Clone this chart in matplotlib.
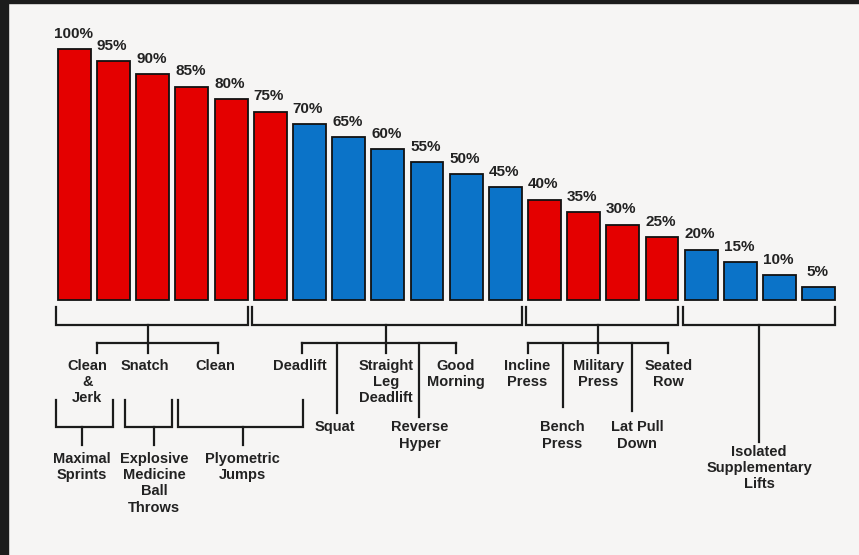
"""
Training intensity pyramid - % of max effort by exercise group
"""
import matplotlib.pyplot as plt
from matplotlib.patches import Rectangle

# --- data ---
percent = [100, 95, 90, 85, 80, 75, 70, 65, 60, 55,
           50, 45, 40, 35, 30, 25, 20, 15, 10, 5]
bar_kind = ['speed'] * 6 + ['strength'] * 6 + ['speed'] * 4 + ['strength'] * 4

# bar index ranges covered by each top bracket
group_bars = [(0, 4), (5, 11), (12, 15), (16, 19)]

# level-1 exercises: label, group, reach ('top' = short tick, 'low' = long line)
lift_labels = ["Clean\n&\nJerk", "Snatch", "Clean",
               "Deadlift", "Squat", "Straight\nLeg\nDeadlift", "Reverse\nHyper", "Good\nMorning",
               "Incline\nPress", "Bench\nPress", "Military\nPress", "Lat Pull\nDown", "Seated\nRow"]
lift_group = [0, 0, 0, 1, 1, 1, 1, 1, 2, 2, 2, 2, 2]
lift_reach = ['top', 'top', 'top', 'top', 'low', 'top', 'low', 'top',
              'top', 'low', 'top', 'low', 'top']

# level-2 groupings under the first bracket
drill_labels = ["Maximal\nSprints", "Explosive\nMedicine\nBall\nThrows", "Plyometric\nJumps"]
last_label = "Isolated\nSupplementary\nLifts"

# --- layout (bar units / % units) ---
lift_x = [0.57, 1.88, 3.66, 5.81, 6.70, 7.95, 8.80, 9.74,
          11.58, 12.47, 13.37, 14.24, 15.16]
lift_text_x = [0.33, 1.80, 3.59, 5.76, 6.65, 7.95, 8.82, 9.74,
               11.56, 12.45, 13.37, 14.36, 15.16]
low_end = [None, None, None, None, -45.0, None, -46.6, None,
           None, -42.6, None, -44.2, None]
hub_x = [1.88, 7.95, 13.37, 17.48]
drill_span = [(-0.47, 0.98), (1.29, 2.49), (2.64, 5.83)]
drill_hub = [0.19, 2.03, 4.30]

RED = '#e40000'
BLUE = '#0b73c8'
INK = '#1b1b1b'
BG = '#f6f5f4'
KIND_COLOR = {'speed': RED, 'strength': BLUE}

fig = plt.figure(figsize=(8.59, 5.55), dpi=100, facecolor=BG)
ax = fig.add_axes([0, 0, 1, 1])
ax.set_facecolor(BG)
ax.set_xlim(-1.90, 20.03)
ax.set_ylim(-101.6, 119.5)
ax.axis('off')

# dark frame on the left and top
fig.patches.append(Rectangle((0, 0), 8 / 859, 1, transform=fig.transFigure,
                             color='#1c1c1c', zorder=5))
fig.patches.append(Rectangle((0, 1 - 3 / 555), 1, 3 / 555, transform=fig.transFigure,
                             color='#1c1c1c', zorder=5))

x = list(range(len(percent)))
W = 0.84
bars = ax.bar(x, percent, width=W, color=[KIND_COLOR[k] for k in bar_kind],
              edgecolor='#111111', linewidth=1.3)
for xi, p in zip(x, percent):
    ax.annotate(f"{p}%", (xi, p), xytext=(-1, 11), textcoords='offset points',
                ha='center', va='center', fontsize=11, fontweight='bold',
                color='#222222', family='Liberation Sans')

LW = 1.6
txt = dict(ha='center', va='top', fontsize=10.5, fontweight='bold', color='#222222',
           family='Liberation Sans', linespacing=1.2)

# top brackets
Y_TOP, Y_BR, Y_SUB, Y_TICK, Y_LAB = -2.8, -10.0, -17.1, -21.1, -23.4
for gi, (a, b) in enumerate(group_bars):
    left, right = a - W / 2 - 0.05, b + W / 2
    ax.plot([left, left, right, right], [Y_TOP, Y_BR, Y_BR, Y_TOP],
            color=INK, lw=LW, solid_joinstyle='miter')
    if gi < 3:
        ax.plot([hub_x[gi], hub_x[gi]], [Y_BR, Y_SUB], color=INK, lw=LW)
        xs = [lift_x[i] for i in range(len(lift_x)) if lift_group[i] == gi]
        ax.plot([min(xs), max(xs)], [Y_SUB, Y_SUB], color=INK, lw=LW)
    else:
        ax.plot([hub_x[gi], hub_x[gi]], [Y_BR, -56.6], color=INK, lw=LW)
        ax.text(hub_x[gi], -57.6, last_label, **txt)

# level-1 exercises
for i, lab in enumerate(lift_labels):
    if lift_reach[i] == 'top':
        ax.plot([lift_x[i], lift_x[i]], [Y_SUB, Y_TICK], color=INK, lw=LW)
        ax.text(lift_text_x[i], Y_LAB, lab, **txt)
    else:
        ax.plot([lift_x[i], lift_x[i]], [Y_SUB, low_end[i]], color=INK, lw=LW)
        ax.text(lift_text_x[i], -48.0, lab, **txt)

# level-2 drills
for (a, b), hx, lab in zip(drill_span, drill_hub, drill_labels):
    ax.plot([a, a, b, b], [-39.8, -50.6, -50.6, -39.8], color=INK, lw=LW,
            solid_joinstyle='miter')
    ax.plot([hx, hx], [-50.6, -57.8], color=INK, lw=LW)
    ax.text(hx, -60.6, lab, **txt)

fig.savefig('out.png', dpi=100, facecolor=BG)
